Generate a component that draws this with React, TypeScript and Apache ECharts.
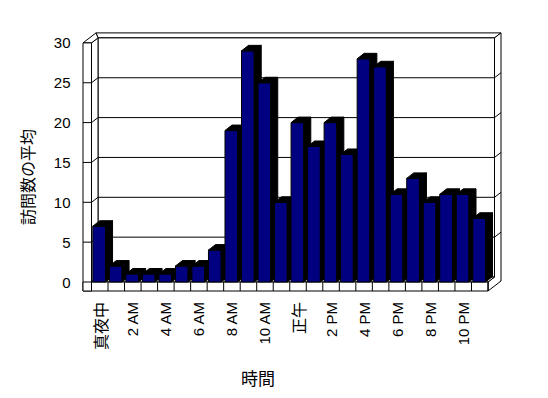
import React, { useEffect, useRef } from "react";
import * as echarts from "echarts";

const categories = [
  "真夜中", "1 AM", "2 AM", "3 AM", "4 AM", "5 AM", "6 AM", "7 AM", "8 AM", "9 AM", "10 AM", "11 AM",
  "正午", "1 PM", "2 PM", "3 PM", "4 PM", "5 PM", "6 PM", "7 PM", "8 PM", "9 PM", "10 PM", "11 PM",
];
const visits = [7, 2, 1, 1, 1, 2, 2, 4, 19, 29, 25, 10, 20, 17, 20, 16, 28, 27, 11, 13, 10, 11, 11, 8];
const yTicks = [0, 5, 10, 15, 20, 25, 30];
const yTitle = "訪問数の平均";
const xTitle = "時間";

export default function App() {
  const ref = useRef<HTMLDivElement>(null);
  useEffect(() => {
    const chart = echarts.init(ref.current!, null, { renderer: "svg" });
    const yMax = yTicks[yTicks.length - 1];
    const DX = 6.5, DY = -5, WALL = 8.5, FLOOR = 9;
    const BDX = 7, BDY = -5.5;
    const line = (x1: number, y1: number, x2: number, y2: number) => ({
      type: "line",
      shape: { x1, y1, x2, y2 },
      style: { stroke: "#000", lineWidth: 1 },
    });
    const poly = (pts: number[][], fill: string) => ({
      type: "polygon",
      shape: { points: pts },
      style: { fill, stroke: "#000", lineWidth: 1 },
    });

    const renderFrame = (_p: any, api: any) => {
      const b = api.size([1, 0])[0];
      const p0 = api.coord([0, 0]);
      const xL = p0[0] - b / 2;
      const Y0 = p0[1];
      const xR = api.coord([categories.length - 1, 0])[0] + b / 2;
      const yT = api.coord([0, yMax])[1];
      const ch: any[] = [];
      ch.push(poly([[xL + DX, yT + DY], [xR + DX, yT + DY], [xR + 2 * DX, yT + 2 * DY], [xL - WALL + 2 * DX, yT + 2 * DY]], "#fff"));
      ch.push(poly([[xR + DX, yT + DY], [xR + 2 * DX, yT + 2 * DY], [xR + 2 * DX, Y0 + FLOOR + 2 * DY], [xR, Y0 + FLOOR], [xR, Y0], [xR + DX, Y0 + DY]], "#fff"));
      ch.push(poly([[xL + DX, yT + DY], [xR + DX, yT + DY], [xR + DX, Y0 + DY], [xL + DX, Y0 + DY]], "#fff"));
      ch.push(poly([[xL, yT], [xL + DX, yT + DY], [xL + DX, Y0 + DY], [xL, Y0]], "#fff"));
      ch.push(poly([[xL - WALL, yT], [xL, yT], [xL + DX, yT + DY], [xL - WALL + 2 * DX, yT + 2 * DY]], "#fff"));
      ch.push(poly([[xL - WALL, yT], [xL, yT], [xL, Y0 + FLOOR], [xL - WALL, Y0 + FLOOR]], "#fff"));
      ch.push(poly([[xL, Y0], [xR, Y0], [xR + DX, Y0 + DY], [xL + DX, Y0 + DY]], "#fff"));
      ch.push(poly([[xL - WALL, Y0], [xR, Y0], [xR, Y0 + FLOOR], [xL - WALL, Y0 + FLOOR]], "#fff"));
      for (let i = 0; i <= categories.length; i++) {
        const x = xL + i * b;
        ch.push(line(x, Y0, x, Y0 + FLOOR));
      }
      for (const v of yTicks) {
        if (v === 0 || v === yMax) continue;
        const y = api.coord([0, v])[1];
        ch.push(line(xL - WALL, y, xL, y));
        ch.push(line(xL, y, xL + DX, y + DY));
        ch.push(line(xL + DX, y + DY, xR + DX, y + DY));
        ch.push(line(xR + DX, y + DY, xR + 2 * DX, y + 2 * DY));
      }
      return { type: "group", children: ch };
    };

    const renderBar = (_p: any, api: any) => {
      const cat = api.value(0);
      const v = api.value(1);
      const b = api.size([1, 0])[0];
      const top = api.coord([cat, v]);
      const base = api.coord([cat, 0]);
      const xs = top[0] - b / 2 + b * 0.08;
      const w = b * 0.77;
      const yv = top[1];
      const Y0 = base[1];
      return {
        type: "group",
        children: [
          { type: "rect", shape: { x: xs, y: yv, width: w, height: Y0 - yv }, style: { fill: "#000080", stroke: "#000", lineWidth: 1 } },
          { type: "polygon", shape: { points: [[xs, yv], [xs + w, yv], [xs + w + BDX, yv + BDY], [xs + BDX, yv + BDY]] }, style: { fill: "#000", stroke: "#000", lineWidth: 1 } },
          { type: "polygon", shape: { points: [[xs + w, yv], [xs + w + BDX, yv + BDY], [xs + w + BDX, Y0 + BDY], [xs + w, Y0]] }, style: { fill: "#000", stroke: "#000", lineWidth: 1 } },
        ],
      };
    };

    chart.setOption({
      animation: false,
      backgroundColor: "#fff",
      grid: { left: 91.5, right: 60, top: 42.9, bottom: 116 },
      xAxis: {
        type: "category",
        data: categories,
        boundaryGap: true,
        axisLine: { show: false },
        axisTick: { show: false },
        splitLine: { show: false },
        axisLabel: {
          interval: 1,
          rotate: 90,
          margin: 20,
          fontSize: 15,
          fontFamily: "Liberation Sans",
          color: "#000",
          formatter: (val: string) => (/[^\x00-\x7f]/.test(val) ? `{cjk|${val}}` : val),
          rich: { cjk: { fontSize: 16, fontFamily: "Noto Sans CJK JP", color: "#000" } },
        },
      },
      yAxis: {
        type: "value",
        min: 0,
        max: yMax,
        interval: 5,
        axisLine: { show: false },
        axisTick: { show: false },
        splitLine: { show: false },
        axisLabel: { margin: 21, fontSize: 15, fontFamily: "Liberation Sans", color: "#000" },
      },
      graphic: [
        {
          type: "text",
          x: 27,
          y: 177,
          rotation: Math.PI / 2,
          style: { text: yTitle, fontSize: 16, fontFamily: "Noto Sans CJK JP", fill: "#000", align: "center", verticalAlign: "middle" },
        },
        {
          type: "text",
          x: 258,
          y: 377,
          style: { text: xTitle, fontSize: 17, fontFamily: "Noto Sans CJK JP", fill: "#000", align: "center", verticalAlign: "middle" },
        },
      ],
      series: [
        { type: "custom", renderItem: renderFrame, data: [[0, 0]], encode: { x: 0, y: 1 }, z: 1, silent: true },
        { type: "custom", renderItem: renderBar, data: visits.map((v, i) => [i, v]), encode: { x: 0, y: 1 }, z: 2 },
      ],
    });
    return () => chart.dispose();
  }, []);
  return <div ref={ref} style={{ position: "fixed", left: 0, top: 0, width: 548, height: 398 }} />;
}
